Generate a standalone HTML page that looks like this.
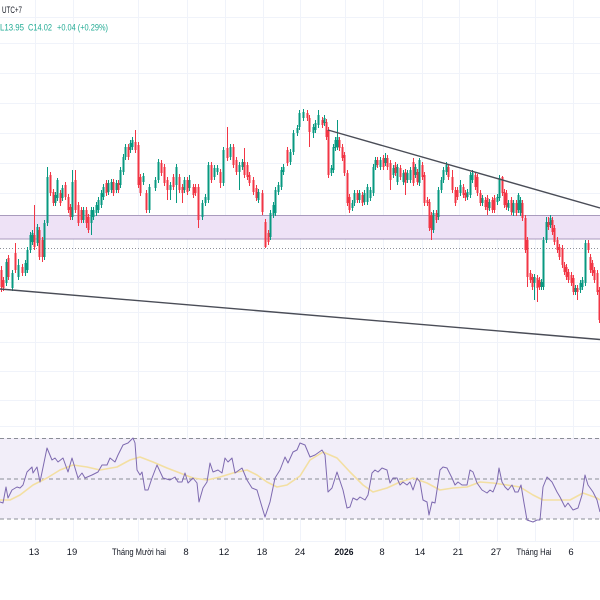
<!DOCTYPE html>
<html>
<head>
<meta charset="utf-8">
<style>
html,body{margin:0;padding:0;background:#fff;}
body{width:600px;height:600px;overflow:hidden;}
svg{display:block;}
text{font-family:"Liberation Sans","DejaVu Sans",sans-serif;}
</style>
</head>
<body>
<svg id="s" width="600" height="600" viewBox="0 0 600 600" xmlns="http://www.w3.org/2000/svg">
  <rect x="0" y="0" width="600" height="600" fill="#ffffff"/>
  <g stroke="#f0f3fa" stroke-width="1">
    <line x1="0" y1="17.5" x2="600" y2="17.5"/>
    <line x1="0" y1="43.5" x2="600" y2="43.5"/>
    <line x1="0" y1="73.5" x2="600" y2="73.5"/>
    <line x1="0" y1="103.5" x2="600" y2="103.5"/>
    <line x1="0" y1="133.5" x2="600" y2="133.5"/>
    <line x1="0" y1="163.5" x2="600" y2="163.5"/>
    <line x1="0" y1="193.5" x2="600" y2="193.5"/>
    <line x1="0" y1="222.5" x2="600" y2="222.5"/>
    <line x1="0" y1="252.5" x2="600" y2="252.5"/>
    <line x1="0" y1="282.5" x2="600" y2="282.5"/>
    <line x1="0" y1="312.5" x2="600" y2="312.5"/>
    <line x1="0" y1="342.5" x2="600" y2="342.5"/>
    <line x1="0" y1="371.5" x2="600" y2="371.5"/>
    <line x1="0" y1="400.5" x2="600" y2="400.5"/>
    <line x1="0" y1="426.5" x2="600" y2="426.5"/>
    <line x1="0" y1="541.5" x2="600" y2="541.5"/>
  </g>
  <g stroke="#f0f3fa" stroke-width="1">
    <line x1="35.5" y1="0" x2="35.5" y2="541"/>
    <line x1="73.5" y1="0" x2="73.5" y2="541"/>
    <line x1="138.5" y1="0" x2="138.5" y2="541"/>
    <line x1="187.5" y1="0" x2="187.5" y2="541"/>
    <line x1="225.5" y1="0" x2="225.5" y2="541"/>
    <line x1="263.5" y1="0" x2="263.5" y2="541"/>
    <line x1="300.5" y1="0" x2="300.5" y2="541"/>
    <line x1="345.5" y1="0" x2="345.5" y2="541"/>
    <line x1="383.5" y1="0" x2="383.5" y2="541"/>
    <line x1="422.5" y1="0" x2="422.5" y2="541"/>
    <line x1="459.5" y1="0" x2="459.5" y2="541"/>
    <line x1="497.5" y1="0" x2="497.5" y2="541"/>
    <line x1="535.5" y1="0" x2="535.5" y2="541"/>
    <line x1="573.5" y1="0" x2="573.5" y2="541"/>
  </g>

  <rect x="0" y="215.5" width="600" height="23.5" fill="#eee2f6"/>
  <line x1="0" y1="215.5" x2="600" y2="215.5" stroke="#a99bbd" stroke-width="1"/>
  <line x1="0" y1="239" x2="600" y2="239" stroke="#a99bbd" stroke-width="1"/>
  <line x1="0" y1="248.5" x2="600" y2="248.5" stroke="#8f929b" stroke-width="1" stroke-dasharray="1 2"/>

  <g id="candles"></g>

  <line x1="328" y1="130" x2="600" y2="208" stroke="#4a4d57" stroke-width="1.4"/>
  <line x1="0" y1="289" x2="600" y2="339.5" stroke="#4a4d57" stroke-width="1.4"/>

  <text x="2" y="13" font-size="9.5" fill="#131722" textLength="20" lengthAdjust="spacingAndGlyphs">UTC+7</text>
  <text x="0" y="30.5" font-size="9.5" fill="#22ab94" textLength="24" lengthAdjust="spacingAndGlyphs">L13.95</text>
  <text x="28" y="30.5" font-size="9.5" fill="#22ab94" textLength="24" lengthAdjust="spacingAndGlyphs">C14.02</text>
  <text x="57" y="30.5" font-size="9.5" fill="#22ab94" textLength="51" lengthAdjust="spacingAndGlyphs">+0.04 (+0.29%)</text>

  <rect x="0" y="438" width="600" height="81" fill="#f2eef9"/>
  <g stroke="#8a8d96" stroke-width="1" stroke-dasharray="4 3">
    <line x1="0" y1="438.5" x2="600" y2="438.5"/>
    <line x1="0" y1="479" x2="600" y2="479"/>
    <line x1="0" y1="519" x2="600" y2="519"/>
  </g>
  <polyline fill="none" stroke="#f3dfa2" stroke-width="1.6" stroke-linejoin="round"
    points="0,500 10,500 20,495 33,485 47,478 60,470 73,465 87,467 100,470 117,467 130,460 140,457 153,462 167,468 180,473 193,478 207,480 220,477 233,473 247,470 257,475 267,482 277,487 287,485 300,476 310,460 323,452 337,458 350,472 363,485 373,492 387,488 400,482 413,478 427,483 440,490 453,488 467,487 480,482 493,483 507,485 520,487 533,495 543,500 557,500 570,500 583,493 597,498 600,500"/>
  <polyline fill="none" stroke="#7e6ab0" stroke-width="1" stroke-linejoin="round"
    points="0,502 3,503 6,487 8,498 12,490 17,487 20,488 23,485 27,472 32,467 33,473 37,467 40,482 47,448 52,460 55,458 58,462 63,458 68,472 72,458 78,478 82,473 85,478 92,475 98,472 102,465 107,465 110,458 115,462 118,455 123,445 128,443 133,438 135,443 137,470 140,475 142,472 145,490 148,490 152,478 157,465 163,478 170,480 175,477 178,482 182,482 185,473 188,483 193,478 197,483 199,502 203,488 207,482 210,463 213,472 218,470 222,473 225,458 228,462 232,458 235,473 242,468 247,480 252,488 257,490 262,507 265,517 270,502 275,478 280,470 285,457 288,463 293,452 297,450 300,443 305,445 310,457 315,455 322,450 325,455 328,492 332,488 337,472 343,490 347,508 350,507 353,498 357,500 360,497 365,500 368,495 372,473 375,470 378,472 382,468 387,470 390,483 393,478 397,478 400,485 403,482 407,485 410,482 413,490 417,478 420,482 423,500 427,502 429,515 432,502 435,503 437,490 440,470 443,467 447,468 452,478 455,485 458,482 462,485 467,485 470,470 473,472 477,483 482,490 487,493 490,490 493,492 497,482 499,468 502,482 505,487 508,490 512,485 515,492 518,492 521,485 524,503 527,520 533,522 537,520 540,520 543,487 547,477 552,482 557,492 560,497 565,507 568,503 573,510 578,508 582,495 585,475 588,485 593,492 597,500 600,512"/>

  <g font-size="9.5" fill="#131722" text-anchor="middle">
    <text x="34" y="555">13</text>
    <text x="72" y="555">19</text>
    <text x="139" y="555" textLength="54" lengthAdjust="spacingAndGlyphs">Tháng Mười hai</text>
    <text x="186" y="555">8</text>
    <text x="224" y="555">12</text>
    <text x="262" y="555">18</text>
    <text x="300" y="555">24</text>
    <text x="344" y="555" font-weight="bold" textLength="19" lengthAdjust="spacingAndGlyphs">2026</text>
    <text x="382" y="555">8</text>
    <text x="420" y="555">14</text>
    <text x="458" y="555">21</text>
    <text x="496" y="555">27</text>
    <text x="534" y="555" textLength="35" lengthAdjust="spacingAndGlyphs">Tháng Hai</text>
    <text x="571" y="555">6</text>
  </g>
</svg>
<script>
(function(){
var D=[
[1,270,287,'r',266,292],[3,280,288,'r'],[6,262,283,'g'],[8,258,277,'r'],[12,273,288,'g'],[15,253,270,'r',243],
[18,265,277,'g',259],[22,267,273,'r'],[25,263,273,'g'],[27,250,270,'g'],[30,235,250,'g'],[32,233,242,'g'],
[34,235,247,'r',205],[37,227,243,'g'],[39,230,257,'r'],[42,240,257,'r',0,262],[44,223,257,'g'],[47,177,223,'g',167],
[50,175,193,'r'],[53,192,203,'r'],[55,195,203,'g'],[57,180,198,'g',178],[60,193,203,'r'],[62,188,198,'g'],
[65,185,197,'r'],[68,197,210,'r'],[70,207,217,'r'],[72,182,217,'g',170],[75,180,210,'r',170],[78,205,223,'r'],
[81,210,220,'r'],[83,210,220,'g'],[86,210,223,'r',0,228],[88,217,230,'r'],[91,210,223,'g',0,235],[93,210,217,'g'],
[96,205,213,'g'],[98,200,210,'g'],[101,193,205,'g'],[103,187,197,'g'],[106,183,193,'r'],[108,183,192,'g',180],
[111,182,190,'g'],[113,182,193,'r'],[116,183,190,'g'],[118,183,190,'r'],[120,170,185,'g'],[123,157,172,'g'],
[125,147,157,'g'],[128,147,157,'r'],[130,143,150,'g'],[132,140,147,'g'],[135,142,150,'r',130],[138,145,185,'r'],
[140,177,193,'r'],[143,176,182,'g'],[146,193,210,'r'],[149,187,210,'g'],
[155,180,188,'g'],[158,162,180,'g'],[161,163,173,'r'],[164,167,183,'r'],[167,180,190,'r',0,200],[170,185,190,'g',0,200],
[173,177,187,'r'],[176,167,185,'g',0,203],[179,177,190,'r'],[182,187,193,'r',0,203],[184,180,190,'g'],[187,180,192,'r'],
[189,180,188,'g',175],[193,187,195,'r'],[195,187,193,'r'],[198,187,220,'r',0,228],[202,203,217,'g'],[205,197,203,'g'],
[208,165,200,'g'],[211,165,180,'r'],[214,168,177,'g'],[217,168,172,'g'],[220,172,183,'r',0,188],[223,150,183,'g'],
[227,148,158,'r',127],[230,147,157,'g'],[233,147,165,'r'],[236,160,172,'r'],[239,165,172,'g',0,190],[242,162,167,'g'],
[244,162,175,'r',148],[247,165,177,'r'],[249,175,183,'r'],[253,180,192,'r'],[256,188,198,'r'],[258,192,200,'g'],
[262,193,212,'r'],[265,222,247,'r',0,248],[268,233,242,'r'],[270,213,237,'g'],[273,205,215,'g'],[275,190,213,'g'],
[278,185,192,'g'],[281,170,187,'g'],[283,167,172,'g'],[287,150,163,'r'],[290,152,162,'g'],[293,133,152,'g'],
[297,128,133,'g'],[299,113,127,'g'],
[303,112,118,'g'],[307,113,118,'r'],[309,118,132,'r',0,147],[313,127,133,'g',0,138],[315,123,130,'g'],[318,115,125,'g',110],
[322,120,125,'r'],[324,118,123,'g'],[326,122,137,'r'],[328,130,175,'r'],[331,168,173,'g'],[333,147,170,'g'],
[335,140,148,'g'],[337,137,147,'g',120],[339,140,148,'r'],[342,147,158,'r'],[344,155,173,'r'],[347,173,203,'r'],
[349,197,210,'r'],[352,203,208,'g'],[354,193,203,'g'],[357,193,200,'r'],[359,193,200,'g',190],[362,195,203,'r'],
[364,193,202,'g'],[367,187,202,'g'],[370,190,198,'g'],[373,167,193,'g'],[375,160,167,'g'],[377,160,165,'r',157],
[380,160,167,'g'],[383,158,167,'r'],[385,158,163,'g',153],[387,158,167,'r'],[390,163,180,'r',0,190],[393,168,175,'g'],
[395,165,173,'r'],[397,167,182,'g'],[400,168,177,'r'],[403,173,182,'g'],[405,172,183,'r',0,195],[407,173,180,'g'],
[410,170,180,'g'],[413,162,183,'r',158],[415,167,175,'g'],[417,172,182,'r'],[419,160,183,'g',158],[422,165,177,'r'],
[424,175,203,'r'],[427,200,203,'r'],[429,202,228,'r'],[431,215,230,'r',0,240],[433,213,230,'g'],[436,213,220,'r'],
[438,190,217,'g'],[441,180,190,'g'],[443,170,180,'g'],[446,165,172,'g'],[448,167,177,'r'],
[452,177,190,'r',170],[455,190,203,'r'],[457,190,197,'r'],[460,185,193,'g',180],[463,187,195,'r'],[465,193,198,'r'],
[467,192,197,'g'],[470,175,195,'g'],[472,173,180,'g'],[475,175,187,'r'],[477,177,193,'r'],[480,193,203,'r'],
[482,198,203,'g'],[485,200,207,'r'],[487,198,210,'r',0,215],[489,202,208,'g'],[492,200,210,'r'],[494,198,210,'r'],
[497,197,202,'g'],[499,178,198,'g'],[502,177,193,'r',176],[504,192,205,'r'],[506,193,207,'r'],[508,203,208,'g'],
[511,200,212,'r'],[513,203,213,'g'],[516,203,213,'r'],[518,195,210,'g',193],[520,200,213,'g'],[522,203,218,'r'],
[525,218,250,'r'],[527,240,277,'r',0,287],[530,273,280,'r'],[532,277,287,'r'],[534,277,283,'g',0,300],[537,278,288,'r',0,302],
[539,280,287,'r'],[541,282,287,'g'],[543,240,287,'g'],[546,222,240,'g',217],[548,222,227,'r',217],[550,218,225,'g'],
[552,220,232,'r'],[554,228,242,'r'],[557,240,250,'r'],[559,247,257,'r'],[562,248,265,'r'],[564,265,272,'r'],
[566,267,277,'r'],[568,272,280,'r'],[571,275,283,'r'],[573,278,292,'r'],[575,288,292,'g'],[577,288,292,'r',0,300],
[580,283,290,'g'],[582,280,287,'g'],[585,243,283,'g'],[588,243,250,'r'],[590,257,270,'r'],[592,263,273,'r'],
[594,270,280,'r'],[597,273,292,'r'],[599,290,320,'r']
];
var NS="http://www.w3.org/2000/svg";
var g=document.getElementById('candles');
for(var i=0;i<D.length;i++){
  var d=D[i],x=d[0],t=Math.min(d[1],d[2]),b=Math.max(d[1],d[2]);
  var col=d[3]==='g'?'#089981':'#f23645';
  var hi=(d[4]&&d[4]>0)?d[4]:t-3;
  var lo=(d[5]&&d[5]>0)?d[5]:b+3;
  var l=document.createElementNS(NS,'line');
  l.setAttribute('x1',x+0.5);l.setAttribute('x2',x+0.5);
  l.setAttribute('y1',hi);l.setAttribute('y2',lo);
  l.setAttribute('stroke',col);l.setAttribute('stroke-width','1');
  g.appendChild(l);
  var r=document.createElementNS(NS,'rect');
  r.setAttribute('x',x-0.5);r.setAttribute('y',t);
  r.setAttribute('width',2);r.setAttribute('height',Math.max(1,b-t));
  r.setAttribute('fill',col);
  g.appendChild(r);
}
})();
</script>
</body>
</html>
